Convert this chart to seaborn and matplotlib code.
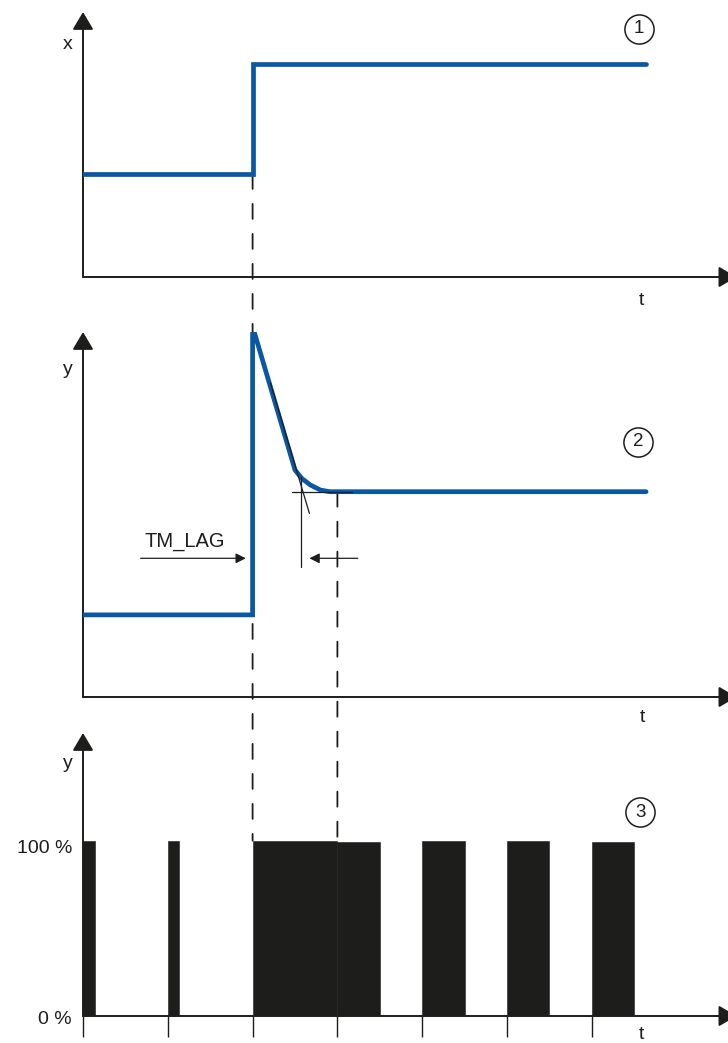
import matplotlib
matplotlib.use('Agg')
import matplotlib.pyplot as plt
from matplotlib.patches import ConnectionPatch
import seaborn as sns

# Time is measured in PWM periods (one tick = one period); values read off the diagram
# 1: input step x
step_t = [0, 2.0, 2.0, 6.64]
step_x = [0.389, 0.389, 0.804, 0.804]

# 2: lead/lag output y (jump, linear fall, smooth settling)
resp_t = [0, 2.0, 2.0, 2.50, 2.58, 2.68, 2.80, 2.91, 3.0, 6.64]
resp_y = [0.225, 0.225, 1.015, 0.622, 0.599, 0.581, 0.567, 0.5625, 0.5625, 0.5625]

# construction lines around the settling point
tangent_t = [2.21, 2.67]
tangent_y = [0.861, 0.503]
level_t = [2.46, 3.17]
level_y = [0.5625, 0.5625]
marker_t = [2.57, 2.57]
marker_y = [0.604, 0.357]

# 3: pulse output, one pulse per period
period_start = [0, 1, 2, 3, 4, 5, 6]
duty = [0.14, 0.13, 1.0, 0.5, 0.5, 0.5, 0.5]
pulse_top = [100, 100, 100, 99.4, 100, 100, 99.4]
pct_ticks = [0, 100]
pct_labels = ['0 %', '100 %']
period_ticks = [0, 1, 2, 3, 4, 5, 6]

BLUE = '#0a57a4'
INK = '#1d1d1b'
W, H = 728, 1043
PX = 84.8  # pixels per period

sns.set_theme(style='white')
plt.rcParams['font.family'] = ['Liberation Sans', 'DejaVu Sans']
plt.rcParams['lines.scale_dashes'] = False

fig = plt.figure(figsize=(W / 100, H / 100), dpi=100)


def panel(top, bottom):
    # axes box given in pixels of the picture, x axis line at "bottom"
    ax = fig.add_axes([83 / W, (H - bottom) / H, 645 / W, (bottom - top) / H])
    ax.set_xlim(0, 645 / PX)
    ax.patch.set_visible(False)
    for s in ax.spines.values():
        s.set_visible(False)
    ax.set_xticks([])
    ax.set_yticks([])
    head = dict(arrowstyle='-|>,head_length=1.08,head_width=0.64', mutation_scale=10,
                color=INK, lw=1.4, shrinkA=0, shrinkB=0)
    ax.annotate('', xy=(1.013, 0), xytext=(0, 0), xycoords='axes fraction',
                arrowprops=head, annotation_clip=False)
    ax.annotate('', xy=(0, 1), xytext=(0, 0), xycoords='axes fraction',
                arrowprops=head, annotation_clip=False)
    return ax


def badge(ax, t, y, label):
    ax.plot(t, y, 'o', ms=21, mfc='white', mec=INK, mew=1.1, zorder=5, clip_on=False)
    ax.text(t, y, label, ha='center', va='center', fontsize=13.5, color=INK, zorder=6)


ax1 = panel(12, 277)
ax1.set_ylim(0, 1)
ax2 = panel(332, 697)
ax2.set_ylim(0, 1)
ax3 = panel(733, 1016)
ax3.set_ylim(0, 283 / 175.3 * 100)

# panel 1
sns.lineplot(x=step_t, y=step_x, ax=ax1, estimator=None, sort=False, color=BLUE, lw=3.4,
             solid_capstyle='round', solid_joinstyle='miter', zorder=3)
ax1.text(-0.18, 0.879, 'x', ha='center', va='center', fontsize=14, color=INK)
ax1.text(6.59, -0.087, 't', ha='center', va='center', fontsize=14, color=INK)
badge(ax1, 6.56, 0.936, '1')

# panel 2
sns.lineplot(x=resp_t, y=resp_y, ax=ax2, estimator=None, sort=False, color=BLUE, lw=3.4,
             solid_capstyle='round', solid_joinstyle='miter', zorder=3)
for xs, ys in [(tangent_t, tangent_y), (level_t, level_y), (marker_t, marker_y)]:
    ax2.plot(xs, ys, color=INK, lw=0.9, zorder=4, clip_on=False)
small = dict(arrowstyle='-|>,head_length=0.6,head_width=0.3', mutation_scale=10,
             color=INK, lw=0.9, shrinkA=0, shrinkB=0)
ax2.annotate('', xy=(2.67, 0.380), xytext=(3.24, 0.380), arrowprops=small)
ax2.annotate('', xy=(1.92, 0.380), xytext=(0.68, 0.380), arrowprops=small)
ax2.text(1.20, 0.427, 'TM_LAG', ha='center', va='center', fontsize=14.5, color=INK)
ax2.text(-0.18, 0.896, 'y', ha='center', va='center', fontsize=14, color=INK)
ax2.text(6.60, -0.055, 't', ha='center', va='center', fontsize=14, color=INK)
badge(ax2, 6.545, 0.699, '2')

# panel 3
ax3.bar(period_start, pulse_top, width=duty, align='edge', color=INK,
        edgecolor=INK, linewidth=0.4, zorder=2)
ax3.set_xticks(period_ticks)
ax3.set_xticklabels([])
ax3.tick_params(axis='x', bottom=True, direction='out', length=15, width=1.0,
                color=INK, pad=0)
for v, lab in zip(pct_ticks, pct_labels):
    ax3.annotate(lab, xy=(0, v), xytext=(-11, -8 if v else -3), textcoords='offset pixels',
                 ha='right', va='center', fontsize=14, color=INK)
ax3.text(-0.18, 144.3, 'y', ha='center', va='center', fontsize=14, color=INK)
ax3.text(6.59, -10.6, 't', ha='center', va='center', fontsize=14, color=INK, clip_on=False)
badge(ax3, 6.57, 116.2, '3')

# dashed guide lines running through the panels
for axA, t, yA in [(ax1, 2.0, step_x[0]), (ax2, 3.0, resp_y[-1])]:
    con = ConnectionPatch(xyA=(t, yA), coordsA=axA.transData, xyB=(t, pulse_top[0]),
                          coordsB=ax3.transData, color=INK, lw=1.3,
                          linestyle=(0, (10.8, 10.8)), zorder=-1)
    fig.add_artist(con)

fig.savefig('out.png', dpi=100)
